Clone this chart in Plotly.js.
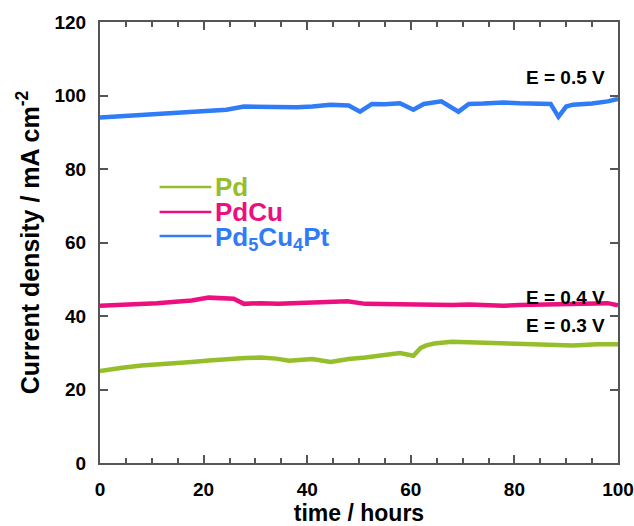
<!DOCTYPE html>
<html>
<head>
<meta charset="utf-8">
<script src="https://cdn.plot.ly/plotly-3.0.1.min.js"></script>
<style>html,body{margin:0;padding:0;background:#fff;}#chart{width:634px;height:526px;}</style>
</head>
<body>
<div id="chart"></div>
<script>
// time (hours) and current density (mA cm^-2)
const pdTime   = [0, 2, 4.3, 8, 11, 14, 17.7, 21, 24.4, 28, 31, 34, 36.5, 39, 41, 44.5, 48, 51.2, 55, 57.9, 60.5, 61.9, 63, 64.5, 67.9, 72, 77.9, 84.6, 91.3, 96, 100];
const pdVal    = [25.0, 25.5, 25.9, 26.5, 26.9, 27.2, 27.5, 27.9, 28.3, 28.6, 28.7, 28.4, 27.8, 28.2, 28.3, 27.5, 28.3, 28.7, 29.3, 29.9, 29.2, 31.3, 32.0, 32.5, 33.0, 32.8, 32.5, 32.2, 32.0, 32.3, 32.3];

const pdcuTime = [0, 4.3, 8, 11, 14, 17.7, 21, 23, 25.8, 27.8, 31, 34.4, 38, 41, 44.5, 47.8, 51.2, 55, 57.9, 61, 64.5, 68, 71.2, 75, 77.9, 81, 84.6, 88, 91.3, 95, 98, 100];
const pdcuVal  = [42.8, 43.0, 43.2, 43.5, 43.8, 44.2, 45.0, 44.8, 44.7, 43.3, 43.5, 43.3, 43.5, 43.7, 43.8, 44.0, 43.3, 43.2, 43.1, 43.0, 42.8, 43.0, 43.1, 42.9, 42.8, 43.0, 43.1, 43.2, 43.3, 43.4, 43.5, 42.9];

const ptTime   = [0, 4.3, 8, 11, 14, 17.7, 21, 24.4, 27.8, 31, 34.4, 38, 41, 44.5, 48, 50.2, 52.5, 55, 57.9, 60.5, 62.5, 65.9, 69.2, 71.2, 74, 77.9, 81, 84.6, 87, 88.5, 90, 91.3, 95, 98, 100];
const ptVal    = [94.0, 94.4, 94.6, 94.8, 95.2, 95.6, 95.8, 96.1, 97.0, 96.9, 96.8, 96.8, 97.0, 97.5, 97.3, 95.6, 97.7, 97.6, 97.9, 96.1, 97.7, 98.4, 95.6, 97.7, 97.8, 98.1, 97.9, 97.7, 97.7, 94.2, 97.0, 97.5, 97.8, 98.4, 99.1];

const seriesNames  = ['Pd', 'PdCu', 'Pd<sub>5</sub>Cu<sub>4</sub>Pt'];
const seriesColors = ['#95be2a', '#ec0f7f', '#2f7cf6'];

const annTexts = ['E = 0.5 V', 'E = 0.4 V', 'E = 0.3 V'];
const annY     = [104.8, 44.9, 37.3];

const xTicks = [0, 20, 40, 60, 80, 100];
const yTicks = [0, 20, 40, 60, 80, 100, 120];
const xMinorStep = 5;

const FONT = 'Liberation Sans, Arial, sans-serif';
const AX = '#555555';

const xMin = xTicks[0], xMax = xTicks[xTicks.length - 1];
const yMin = yTicks[0], yMax = yTicks[yTicks.length - 1];

const data = [[pdTime, pdVal], [pdcuTime, pdcuVal], [ptTime, ptVal]].map((s, i) => ({
  x: s[0], y: s[1], type: 'scatter', mode: 'lines',
  name: seriesNames[i], showlegend: false,
  line: {color: seriesColors[i], width: 4.5}
}));

// legend drawn with lines + labels (positions in axis units)
const legX0 = 11.5, legX1 = 21.5, legTextX = 21.9;
const legY = [75.1, 68.3, 61.8];

const legendShapes = seriesNames.map((n, i) => ({
  type: 'line', xref: 'x', yref: 'y', x0: legX0, x1: legX1, y0: legY[i], y1: legY[i],
  line: {color: seriesColors[i], width: 2.5}
}));

const annotations = annTexts.map((t, i) => ({
  x: 97.9, y: annY[i], xref: 'x', yref: 'y', text: '<b>' + t + '</b>',
  showarrow: false, xanchor: 'right', yanchor: 'middle',
  font: {family: FONT, size: 19, color: '#000'}
})).concat(seriesNames.map((n, i) => ({
  x: legTextX, y: legY[i], xref: 'x', yref: 'y', text: '<b>' + n + '</b>',
  showarrow: false, xanchor: 'left', yanchor: 'middle', yshift: i === 2 ? -3 : 0,
  font: {family: FONT, size: 26, color: seriesColors[i]}
})));

const layout = {
  width: 634, height: 526,
  margin: {l: 100, r: 16, t: 22, b: 63},
  paper_bgcolor: '#fff', plot_bgcolor: '#fff',
  showlegend: false,
  xaxis: {
    range: [xMin, xMax], tickmode: 'linear', tick0: xMin, dtick: xTicks[1] - xTicks[0],
    ticks: 'inside', ticklen: 8, tickwidth: 2, tickcolor: AX, ticklabelstandoff: 8,
    showline: true, linecolor: AX, linewidth: 2, mirror: 'allticks', showgrid: false, zeroline: false,
    minor: {ticks: 'inside', tick0: xMin, dtick: xMinorStep, ticklen: 5, tickwidth: 2, tickcolor: AX, showgrid: false},
    tickfont: {family: FONT, size: 19, color: '#000', weight: 'bold'},
    title: {text: '<b>time / hours</b>', font: {family: FONT, size: 23, color: '#000'}, standoff: 6}
  },
  yaxis: {
    range: [yMin, yMax], tickmode: 'linear', tick0: yMin, dtick: yTicks[1] - yTicks[0],
    ticks: 'inside', ticklen: 8, tickwidth: 2, tickcolor: AX, ticklabelstandoff: 8,
    showline: true, linecolor: AX, linewidth: 2, mirror: 'allticks', showgrid: false, zeroline: false,
    tickfont: {family: FONT, size: 19, color: '#000', weight: 'bold'},
    title: {text: '<b>Current density / mA cm<sup>-2</sup></b>', font: {family: FONT, size: 25, color: '#000'}, standoff: 8}
  },
  shapes: legendShapes,
  annotations: annotations
};

Plotly.newPlot('chart', data, layout, {displayModeBar: false, staticPlot: true});
</script>
</body>
</html>
